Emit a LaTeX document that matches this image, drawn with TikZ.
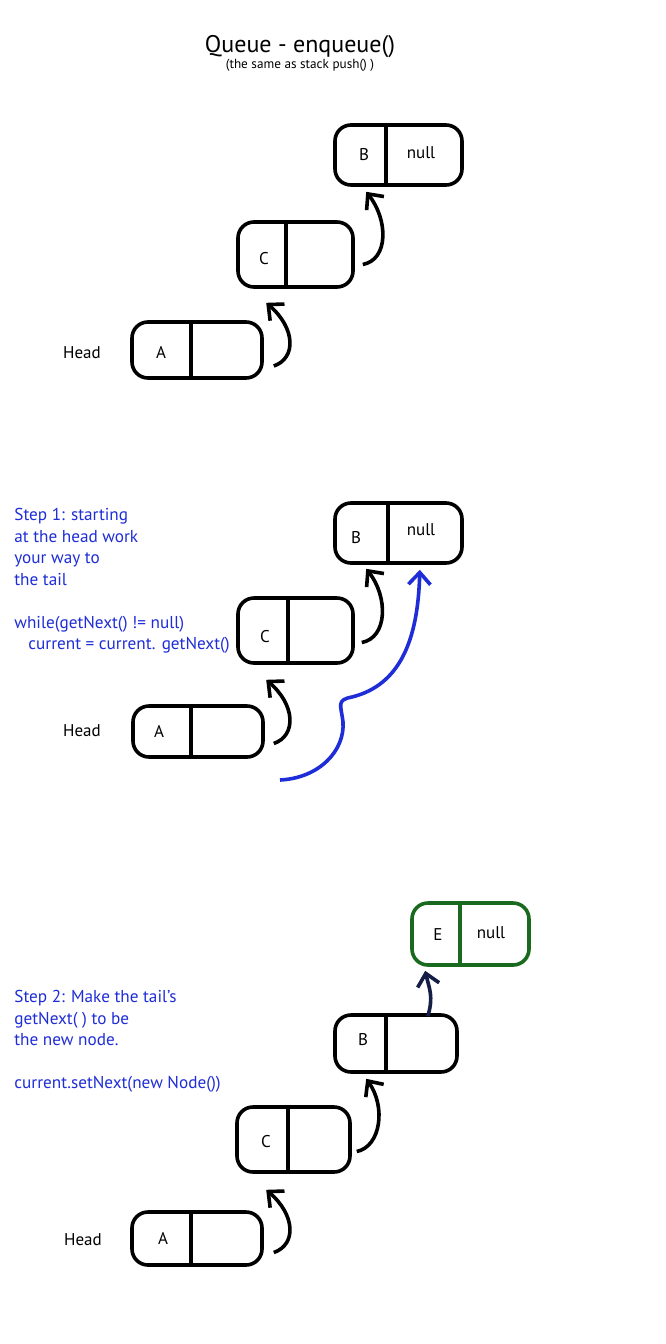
\documentclass[tikz,border=0pt]{standalone}
\usepackage{fontspec}
\setmainfont{PT Sans}
\usetikzlibrary{positioning, calc, arrows.meta}
\definecolor{penblue}{RGB}{30,45,215}
\definecolor{pengreen}{RGB}{25,105,30}
\definecolor{pennavy}{RGB}{20,30,70}
\tikzset{cell/.style={rectangle, rounded corners=8pt, draw=black, line width=1.8pt, inner sep=0pt},
         newcell/.style={cell, draw=pengreen},
         val/.style={font=\fontsize{8.5}{10}\selectfont, inner sep=0pt},
         note/.style={font=\fontsize{8.6}{10.75}\selectfont, text=penblue, align=left, anchor=north west, inner sep=0pt},
         link/.style={line width=1.8pt, -{Straight Barb[length=6pt,width=11pt,line width=1.8pt]}},
         walk/.style={link, draw=penblue, line width=1.8pt}}
\newcommand{\cellsplit}[3][black]{\draw[line width=1.8pt, draw=#1] ($(#2.north west)+(#3,0)$) -- ($(#2.south west)+(#3,0)$);}

\begin{document}
\begin{tikzpicture}[x=0.5pt, y=-0.5pt]
        \useasboundingbox[fill=white] (0,0) rectangle (665,1344);
        % title
        \node (title)[font=\fontsize{12}{14}\selectfont, inner sep=0pt] at (300,47) {Queue - enqueue()};
        \node (subtitle)[font=\fontsize{6.6}{8}\selectfont, inner sep=0pt] at (300,65) {(the same as stack push() )};

        % the list as it is
        \node (b1)[cell, minimum width=63.5pt, minimum height=30pt] at (398.5,155) {};
        \cellsplit{b1}{53}
        \node (b1v)[val] at (364,155) {B};
        \node (b1n)[val] at (421,153) {null};
        \node (c1)[cell, minimum width=57.5pt, minimum height=32.5pt] at (295.5,254.5) {};
        \cellsplit{c1}{50}
        \node (c1v)[val] at (264,259) {C};
        \node (a1)[cell, minimum width=65pt, minimum height=28pt] at (197,350) {};
        \cellsplit{a1}{61}
        \node (a1v)[val] at (161,352) {A};
        \node (head1)[val] at (82,353) {Head};
        \draw [link] ($(a1.east)+(10,16)$) .. controls +(23,-8) and +(29,25) .. ($(c1.south west)+(30,14)$);
        \draw [link] ($(c1.east)+(8,10)$) .. controls +(26,-5) and +(22,28) .. ($(b1.south west)+(33,5)$);

        % step 1
        \node (step1)[note] at (14,508) {Step 1: starting\\at the head work\\your way to\\the tail\\[10.75pt]while(getNext() != null)\\\hspace{7pt}current = current. getNext()};
        \node (b2)[cell, minimum width=63.5pt, minimum height=30pt] at (398.5,533) {};
        \cellsplit{b2}{55}
        \node (b2v)[val] at (356,538) {B};
        \node (b2n)[val] at (421,530) {null};
        \node (c2)[cell, minimum width=57.5pt, minimum height=32.5pt] at (295.5,630.5) {};
        \cellsplit{c2}{52}
        \node (c2v)[val] at (265,637) {C};
        \node (a2)[cell, minimum width=65pt, minimum height=25.5pt] at (198,731.5) {};
        \cellsplit{a2}{60}
        \node (a2v)[val] at (159,731) {A};
        \node (head2)[val] at (82,731) {Head};
        \draw [link] ($(a2.east)+(9,12)$) .. controls +(23,-8) and +(29,25) .. ($(c2.south west)+(30,15)$);
        \draw [link] ($(c2.east)+(7,12)$) .. controls +(26,-5) and +(22,28) .. ($(b2.south west)+(33,4)$);
        \coordinate (walkstart) at (280,780);
        \draw [walk] (walkstart) .. controls (320,778) and (345,750) .. (343,722)
              .. controls (341,705) and (336,700) .. (352,697)
              .. controls (400,685) and (418,640) .. ($(b2.south east)+(-44,5)$);

        % step 2
        \node (step2)[note] at (14,990) {Step 2: Make the tail’s\\getNext( ) to be\\the new node.\\[10.75pt]current.setNext(new Node())};
        \node (e3)[newcell, minimum width=58.5pt, minimum height=31pt] at (470.5,934) {};
        \cellsplit[pengreen]{e3}{50}
        \node (e3v)[val] at (438,935) {E};
        \node (e3n)[val] at (491,933) {null};
        \node (b3)[cell, minimum width=61pt, minimum height=28.5pt] at (396,1043.5) {};
        \cellsplit{b3}{53}
        \node (b3v)[val] at (363,1040) {B};
        \node (c3)[cell, minimum width=56.5pt, minimum height=32.5pt] at (293.5,1139.5) {};
        \cellsplit{c3}{53}
        \node (c3v)[val] at (266,1142) {C};
        \node (a3)[cell, minimum width=65pt, minimum height=26.5pt] at (197,1238.5) {};
        \cellsplit{a3}{61}
        \node (a3v)[val] at (163,1238) {A};
        \node (head3)[val] at (83,1240) {Head};
        \draw [link] ($(a3.east)+(10,14)$) .. controls +(23,-8) and +(29,25) .. ($(c3.south west)+(31,16)$);
        \draw [link] ($(c3.east)+(5,12)$) .. controls +(24,-5) and +(20,28) .. ($(b3.south west)+(33,5)$);
        \draw [link, draw=pennavy] ($(b3.north east)+(-31,3)$) .. controls +(6,-20) and +(4,18) .. ($(e3.south west)+(15,4)$);
\end{tikzpicture}
\end{document}
